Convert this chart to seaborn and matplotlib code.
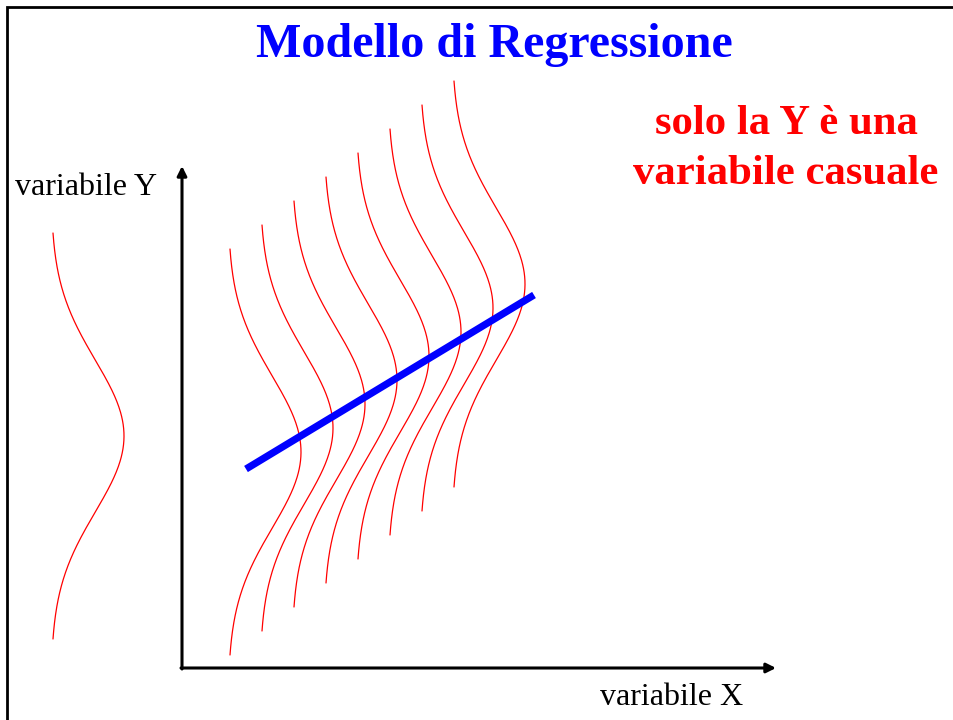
import numpy as np
import pandas as pd
import matplotlib
matplotlib.use("Agg")
import matplotlib.pyplot as plt
import seaborn as sns

# ---- diagram data (pixel-space coordinates of the slide) ----
curve_base_x = [230, 262, 294, 326, 358, 390, 422, 454]      # left edge of each conditional density
curve_center_y = [452, 428, 404, 380, 356, 332, 308, 284]    # mean of Y for each X
marginal_base_x = [53]
marginal_center_y = [436]
density_half_height = 203
density_amplitude = 71
density_sigma = 76

reg_x = [246, 534]
reg_y = [469, 295]

title_text = "Modello di Regressione"
note_lines = ["solo la Y è una", "variabile casuale"]
y_label = "variabile Y"
x_label = "variabile X"

sns.set_theme(style="white")
plt.rcParams["font.family"] = ["Liberation Serif", "DejaVu Serif"]

fig = plt.figure(figsize=(9.54, 7.2), dpi=100)
ax = fig.add_axes([0, 0, 1, 1])
ax.set_xlim(0, 954)
ax.set_ylim(720, 0)
ax.axis("off")


def density_frame(bases, centers, tag):
    rows = []
    t = np.linspace(-density_half_height, density_half_height, 300)
    g = np.exp(-t ** 2 / (2 * density_sigma ** 2))
    g = (g - g[0]) / (1 - g[0])
    for k, (b, c) in enumerate(zip(bases, centers)):
        rows.append(pd.DataFrame({"x": b + density_amplitude * g,
                                  "y": c + t,
                                  "curve": f"{tag}{k}"}))
    return pd.concat(rows, ignore_index=True)


cond = density_frame(curve_base_x, curve_center_y, "c")
marg = density_frame(marginal_base_x, marginal_center_y, "m")
dens = pd.concat([cond, marg], ignore_index=True)

sns.lineplot(data=dens, x="x", y="y", units="curve", estimator=None, sort=False,
             color="#ff0000", lw=0.9, ax=ax, legend=False)

reg = pd.DataFrame({"x": reg_x, "y": reg_y})
sns.lineplot(data=reg, x="x", y="y", color="#0000ff", lw=5.2, ax=ax,
             solid_capstyle="butt", sort=False, legend=False)

# axes arrows
ax.annotate("", xy=(182, 166), xytext=(182, 669),
            arrowprops=dict(arrowstyle="-|>", lw=2.2, color="black",
                            mutation_scale=14, shrinkA=0, shrinkB=0))
ax.annotate("", xy=(776, 668), xytext=(181, 668),
            arrowprops=dict(arrowstyle="-|>", lw=2.2, color="black",
                            mutation_scale=14, shrinkA=0, shrinkB=0))

# slide frame (left and top edges)
ax.plot([7, 7, 954], [720, 7, 7], color="black", lw=2.0, solid_joinstyle="miter")

ax.text(494.5, 57, title_text, color="#0000ff", fontsize=34.6, fontweight="bold",
        ha="center", va="baseline")
ax.text(786, 134, note_lines[0], color="#ff0000", fontsize=30.8, fontweight="bold",
        ha="center", va="baseline")
ax.text(786, 184, note_lines[1], color="#ff0000", fontsize=30.8, fontweight="bold",
        ha="center", va="baseline")
ax.text(15, 195, y_label, color="black", fontsize=23, ha="left", va="baseline")
ax.text(600, 705, x_label, color="black", fontsize=23, ha="left", va="baseline")

fig.savefig("out.png", dpi=100, facecolor="white")
